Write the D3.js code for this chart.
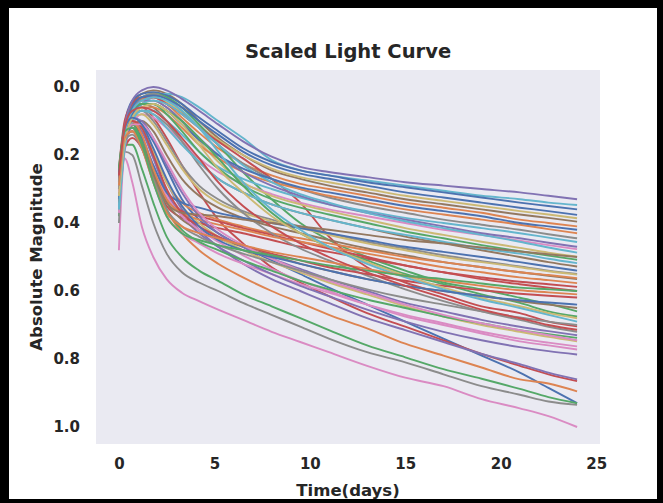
<!DOCTYPE html>
<html>
<head>
<meta charset="utf-8">
<script src="https://d3js.org/d3.v7.min.js"></script>
<style>
body { margin: 0; background: #fff; }
.axis text { font-family: "DejaVu Sans", sans-serif; font-weight: bold; font-size: 15px; fill: #262626; }
.label { font-family: "DejaVu Sans", sans-serif; font-weight: bold; fill: #262626; }
</style>
</head>
<body>
<script>
// time grid shared by every curve (days)
var days = [0, 0.3, 0.7, 1.2, 1.8, 2.5, 3.3, 4.2, 5.2, 6.5, 8, 9.5, 11, 13, 15, 17, 19, 21, 22.5, 24];

// scaled magnitudes, one row per light curve
var curves = [
  [0.36,0.14,0.10,0.11,0.16,0.24,0.33,0.39,0.43,0.47,0.51,0.55,0.59,0.64,0.69,0.74,0.79,0.84,0.885,0.93],
  [0.33,0.16,0.13,0.17,0.26,0.36,0.43,0.48,0.52,0.56,0.60,0.635,0.67,0.71,0.755,0.79,0.825,0.86,0.872,0.895],
  [0.38,0.17,0.17,0.24,0.34,0.44,0.50,0.54,0.57,0.61,0.645,0.68,0.715,0.76,0.795,0.83,0.858,0.888,0.912,0.93],
  [0.30,0.13,0.07,0.06,0.09,0.15,0.23,0.31,0.39,0.46,0.53,0.575,0.615,0.665,0.705,0.745,0.785,0.82,0.845,0.865],
  [0.35,0.14,0.10,0.12,0.19,0.28,0.36,0.42,0.47,0.52,0.565,0.60,0.635,0.68,0.715,0.75,0.785,0.815,0.84,0.86],
  [0.29,0.12,0.05,0.02,0.01,0.02,0.05,0.10,0.15,0.20,0.245,0.27,0.29,0.31,0.33,0.345,0.36,0.375,0.385,0.396],
  [0.48,0.21,0.28,0.41,0.50,0.565,0.605,0.63,0.655,0.685,0.72,0.75,0.78,0.82,0.855,0.88,0.918,0.945,0.968,1.0],
  [0.40,0.19,0.20,0.29,0.40,0.49,0.545,0.575,0.60,0.635,0.67,0.705,0.74,0.78,0.81,0.845,0.88,0.905,0.925,0.935],
  [0.33,0.15,0.07,0.04,0.03,0.045,0.075,0.115,0.155,0.20,0.24,0.265,0.28,0.30,0.32,0.335,0.35,0.365,0.375,0.386],
  [0.30,0.16,0.09,0.05,0.03,0.02,0.03,0.06,0.10,0.15,0.215,0.245,0.26,0.275,0.29,0.305,0.32,0.33,0.34,0.347],
  [0.27,0.11,0.04,0.02,0.015,0.025,0.05,0.09,0.13,0.18,0.22,0.245,0.26,0.28,0.295,0.31,0.325,0.34,0.35,0.36],
  [0.31,0.14,0.06,0.035,0.03,0.05,0.09,0.135,0.18,0.225,0.26,0.285,0.30,0.32,0.34,0.355,0.37,0.39,0.40,0.41],
  [0.25,0.12,0.06,0.03,0.02,0.03,0.06,0.11,0.17,0.25,0.33,0.40,0.45,0.50,0.54,0.575,0.595,0.62,0.638,0.66],
  [0.24,0.10,0.05,0.03,0.03,0.05,0.08,0.12,0.16,0.21,0.27,0.34,0.44,0.53,0.575,0.61,0.645,0.665,0.69,0.704],
  [0.28,0.12,0.04,0.01,0.0,0.01,0.035,0.07,0.11,0.16,0.205,0.235,0.25,0.265,0.28,0.29,0.30,0.31,0.32,0.33],
  [0.31,0.14,0.07,0.05,0.06,0.10,0.16,0.22,0.27,0.31,0.345,0.37,0.39,0.415,0.44,0.46,0.48,0.50,0.515,0.528],
  [0.37,0.19,0.11,0.08,0.09,0.12,0.16,0.21,0.25,0.285,0.315,0.34,0.36,0.38,0.40,0.42,0.435,0.452,0.465,0.477],
  [0.32,0.14,0.06,0.03,0.02,0.035,0.07,0.12,0.17,0.225,0.27,0.30,0.325,0.35,0.37,0.39,0.405,0.42,0.433,0.445],
  [0.33,0.16,0.08,0.05,0.04,0.06,0.10,0.16,0.22,0.28,0.32,0.345,0.365,0.39,0.415,0.435,0.455,0.473,0.487,0.499],
  [0.36,0.18,0.10,0.07,0.07,0.10,0.14,0.19,0.235,0.27,0.30,0.325,0.345,0.365,0.385,0.40,0.415,0.43,0.443,0.456],
  [0.30,0.13,0.06,0.03,0.025,0.035,0.06,0.10,0.14,0.19,0.23,0.255,0.27,0.29,0.31,0.325,0.34,0.355,0.365,0.376],
  [0.35,0.17,0.09,0.06,0.06,0.08,0.12,0.17,0.21,0.25,0.28,0.30,0.32,0.34,0.36,0.375,0.39,0.405,0.418,0.43],
  [0.30,0.14,0.07,0.05,0.05,0.08,0.13,0.19,0.24,0.29,0.33,0.355,0.375,0.40,0.425,0.445,0.465,0.483,0.496,0.508],
  [0.33,0.18,0.15,0.18,0.27,0.35,0.385,0.40,0.415,0.43,0.45,0.47,0.485,0.505,0.525,0.545,0.56,0.573,0.58,0.588],
  [0.34,0.15,0.07,0.04,0.04,0.06,0.10,0.15,0.20,0.25,0.29,0.32,0.345,0.37,0.39,0.41,0.43,0.445,0.458,0.47],
  [0.34,0.17,0.11,0.10,0.13,0.20,0.27,0.32,0.355,0.385,0.41,0.43,0.45,0.475,0.495,0.515,0.53,0.545,0.555,0.565],
  [0.27,0.14,0.13,0.18,0.28,0.38,0.43,0.46,0.49,0.52,0.55,0.58,0.605,0.64,0.67,0.695,0.72,0.74,0.752,0.763],
  [0.30,0.14,0.08,0.07,0.10,0.16,0.23,0.29,0.33,0.365,0.39,0.41,0.43,0.455,0.475,0.495,0.512,0.528,0.54,0.55],
  [0.32,0.15,0.09,0.08,0.11,0.17,0.24,0.30,0.34,0.37,0.395,0.415,0.435,0.46,0.48,0.50,0.515,0.53,0.542,0.552],
  [0.36,0.18,0.09,0.05,0.04,0.05,0.08,0.12,0.17,0.23,0.28,0.315,0.34,0.37,0.395,0.415,0.435,0.455,0.472,0.487],
  [0.33,0.16,0.08,0.05,0.05,0.07,0.11,0.155,0.20,0.24,0.27,0.295,0.31,0.33,0.35,0.365,0.38,0.40,0.41,0.42],
  [0.31,0.16,0.12,0.13,0.19,0.28,0.34,0.37,0.39,0.41,0.43,0.445,0.46,0.48,0.50,0.515,0.53,0.545,0.553,0.562],
  [0.27,0.13,0.07,0.05,0.05,0.07,0.10,0.15,0.21,0.29,0.37,0.43,0.47,0.51,0.55,0.58,0.61,0.635,0.66,0.675],
  [0.28,0.14,0.11,0.15,0.25,0.33,0.365,0.38,0.395,0.415,0.435,0.455,0.475,0.50,0.525,0.545,0.565,0.58,0.59,0.60],
  [0.26,0.13,0.10,0.13,0.21,0.31,0.38,0.43,0.47,0.51,0.55,0.585,0.615,0.655,0.69,0.72,0.745,0.765,0.777,0.787],
  [0.27,0.14,0.12,0.16,0.25,0.34,0.39,0.42,0.445,0.47,0.495,0.52,0.54,0.565,0.585,0.60,0.615,0.63,0.64,0.65],
  [0.30,0.15,0.12,0.15,0.23,0.32,0.38,0.42,0.455,0.495,0.535,0.57,0.60,0.64,0.675,0.70,0.725,0.748,0.76,0.772],
  [0.30,0.15,0.09,0.07,0.08,0.11,0.16,0.23,0.30,0.37,0.43,0.475,0.51,0.555,0.595,0.63,0.66,0.685,0.705,0.72],
  [0.29,0.14,0.10,0.12,0.19,0.28,0.35,0.40,0.44,0.48,0.515,0.545,0.575,0.61,0.645,0.675,0.70,0.72,0.735,0.748],
  [0.35,0.18,0.10,0.07,0.08,0.12,0.17,0.22,0.27,0.31,0.345,0.37,0.39,0.415,0.435,0.455,0.475,0.49,0.505,0.518],
  [0.30,0.15,0.12,0.15,0.23,0.31,0.34,0.355,0.37,0.385,0.40,0.415,0.43,0.45,0.47,0.485,0.50,0.515,0.528,0.54],
  [0.26,0.13,0.10,0.14,0.24,0.33,0.37,0.39,0.405,0.42,0.44,0.455,0.47,0.49,0.51,0.53,0.545,0.56,0.568,0.577],
  [0.25,0.12,0.11,0.16,0.26,0.36,0.42,0.455,0.48,0.51,0.54,0.57,0.595,0.625,0.65,0.675,0.695,0.715,0.727,0.738],
  [0.27,0.14,0.10,0.12,0.20,0.30,0.37,0.41,0.44,0.465,0.49,0.51,0.53,0.55,0.57,0.585,0.598,0.608,0.614,0.619],
  [0.28,0.13,0.09,0.10,0.15,0.23,0.31,0.38,0.43,0.47,0.505,0.535,0.565,0.60,0.635,0.66,0.685,0.705,0.718,0.73],
  [0.28,0.15,0.13,0.17,0.26,0.34,0.37,0.375,0.38,0.39,0.40,0.41,0.42,0.435,0.45,0.46,0.472,0.484,0.492,0.50],
  [0.31,0.16,0.11,0.11,0.15,0.22,0.30,0.37,0.42,0.465,0.505,0.54,0.57,0.605,0.64,0.67,0.695,0.715,0.73,0.745],
  [0.30,0.16,0.14,0.18,0.27,0.36,0.41,0.44,0.465,0.49,0.515,0.54,0.565,0.595,0.62,0.64,0.66,0.678,0.69,0.70],
  [0.32,0.16,0.09,0.06,0.05,0.07,0.11,0.17,0.24,0.31,0.38,0.43,0.47,0.515,0.555,0.59,0.62,0.645,0.665,0.68],
  [0.29,0.14,0.07,0.04,0.03,0.04,0.07,0.12,0.19,0.28,0.36,0.42,0.47,0.52,0.56,0.595,0.625,0.65,0.67,0.69],
  [0.26,0.12,0.09,0.11,0.18,0.27,0.35,0.41,0.45,0.48,0.50,0.52,0.54,0.565,0.585,0.60,0.615,0.627,0.634,0.64],
  [0.29,0.15,0.13,0.18,0.28,0.37,0.41,0.43,0.445,0.465,0.485,0.50,0.515,0.535,0.555,0.57,0.585,0.598,0.604,0.61],
  [0.24,0.13,0.12,0.17,0.28,0.38,0.43,0.45,0.465,0.48,0.495,0.51,0.525,0.54,0.555,0.565,0.578,0.59,0.595,0.60],
  [0.26,0.12,0.07,0.06,0.07,0.10,0.15,0.21,0.28,0.35,0.41,0.46,0.50,0.545,0.585,0.62,0.655,0.68,0.70,0.714]
];

var xTicks = [0, 5, 10, 15, 20, 25];
var yTicks = [0.0, 0.2, 0.4, 0.6, 0.8, 1.0];

// seaborn "deep" cycle
var palette = ["#4c72b0", "#dd8452", "#55a868", "#c44e52", "#8172b3",
               "#937860", "#da8bc3", "#8c8c8c", "#ccb974", "#64b5cd"];

var W = 663, H = 503;
var plot = {left: 96, right: 600, top: 70, bottom: 444};

var svg = d3.select("body").append("svg")
    .attr("width", W)
    .attr("height", H);

// black frame
svg.append("rect").attr("width", W).attr("height", H).attr("fill", "#000");
svg.append("rect")
    .attr("x", 9).attr("y", 8)
    .attr("width", 648).attr("height", 491)
    .attr("fill", "#fff");

var x = d3.scaleLinear().domain([-1.2, 25.2]).range([plot.left, plot.right]);
var y = d3.scaleLinear().domain([-0.05, 1.05]).range([plot.top, plot.bottom]);
var color = d3.scaleOrdinal().domain(d3.range(curves.length)).range(palette);

svg.append("rect")
    .attr("x", plot.left).attr("y", plot.top)
    .attr("width", plot.right - plot.left)
    .attr("height", plot.bottom - plot.top)
    .attr("fill", "#eaeaf2");

var line = d3.line()
    .x(function(d, i) { return x(days[i]); })
    .y(function(d) { return y(d); })
    .curve(d3.curveMonotoneX);

svg.append("g")
  .selectAll("path")
  .data(curves)
  .enter().append("path")
    .attr("d", line)
    .attr("fill", "none")
    .attr("stroke", function(d, i) { return color(i); })
    .attr("stroke-width", 1.9)
    .attr("stroke-linejoin", "round");

var xAxis = svg.append("g")
    .attr("class", "axis")
    .attr("transform", "translate(0," + plot.bottom + ")")
    .call(d3.axisBottom(x).tickValues(xTicks).tickSize(0).tickPadding(14));
xAxis.select(".domain").remove();

var yAxis = svg.append("g")
    .attr("class", "axis")
    .attr("transform", "translate(" + plot.left + ",0)")
    .call(d3.axisLeft(y).tickValues(yTicks).tickSize(0).tickPadding(16).tickFormat(d3.format(".1f")));
yAxis.select(".domain").remove();

svg.append("text")
    .attr("class", "label")
    .attr("x", (plot.left + plot.right) / 2)
    .attr("y", 58)
    .attr("text-anchor", "middle")
    .style("font-size", "19.5px")
    .text("Scaled Light Curve");

svg.append("text")
    .attr("class", "label")
    .attr("x", (plot.left + plot.right) / 2)
    .attr("y", 496)
    .attr("text-anchor", "middle")
    .style("font-size", "16.5px")
    .text("Time(days)");

svg.append("text")
    .attr("class", "label")
    .attr("transform", "translate(42," + (plot.top + plot.bottom) / 2 + ") rotate(-90)")
    .attr("text-anchor", "middle")
    .style("font-size", "16.5px")
    .text("Absolute Magnitude");
</script>
</body>
</html>
